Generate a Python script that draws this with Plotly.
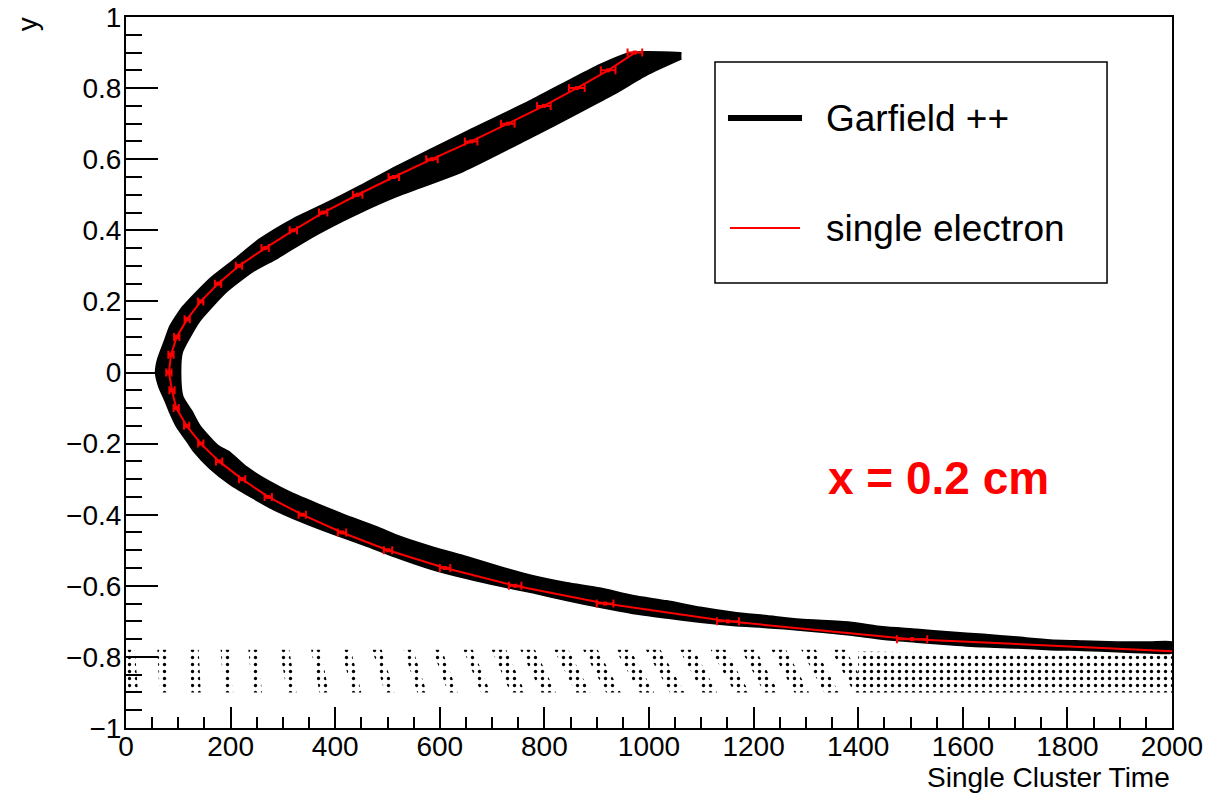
import plotly.graph_objects as go

# ---------------- data ----------------
# "single electron" curve: y positions and drift times, with x-errors
se_y = [0.9, 0.85, 0.8, 0.75, 0.7, 0.65, 0.6, 0.55, 0.5, 0.45, 0.4, 0.35, 0.3, 0.25,
        0.2, 0.15, 0.1, 0.05, 0.0, -0.05, -0.1, -0.15, -0.2, -0.25, -0.3, -0.35,
        -0.4, -0.45, -0.5, -0.55, -0.6, -0.65, -0.7, -0.75, -0.8]
se_t = [973, 922, 862, 799, 730, 660, 585, 512, 443, 377, 320, 266, 216, 176,
        143, 117, 97, 86, 82, 88, 96, 116, 143, 178, 222, 272,
        337, 413, 501, 610, 744, 916, 1151, 1503, 2230]
se_err = [14, 14, 15, 13, 13, 12, 11, 10, 9, 8, 7, 7, 6, 6,
          5, 5, 5, 5, 5, 5, 5, 5, 5, 6, 6, 7,
          7, 8, 8, 10, 12, 16, 21, 29, 40]

# Garfield++ band: outer edge (top end -> vertex -> tail)
band_outer_t = [1062, 964, 901, 772, 644, 518, 447, 384, 319, 256, 212, 161, 109, 84, 75,
                61, 57, 63, 74, 84, 97, 116, 130, 161, 199, 243, 281, 333, 396, 461, 511,
                587, 652, 715, 778, 843, 906, 969, 1034, 1098, 1161, 1226, 1289, 1384,
                1447, 1512, 1576, 1639, 1704, 1767, 1830, 1895, 1958, 2000]
band_outer_y = [0.899, 0.899, 0.862, 0.763, 0.672, 0.580, 0.524, 0.477, 0.431, 0.375, 0.323,
                0.264, 0.185, 0.129, 0.093, 0.037, 0.0, -0.039, -0.076, -0.112, -0.152,
                -0.192, -0.222, -0.270, -0.314, -0.353, -0.384, -0.418, -0.454, -0.488,
                -0.516, -0.554, -0.579, -0.600, -0.619, -0.641, -0.660, -0.677, -0.690,
                -0.702, -0.711, -0.717, -0.724, -0.738, -0.750, -0.758, -0.765, -0.771,
                -0.774, -0.779, -0.781, -0.785, -0.788, -0.788]
# inner edge (top end -> vertex -> tail)
band_inner_t = [1062, 996, 931, 868, 772, 644, 518, 447, 415, 352, 289, 243, 193, 141, 122,
                107, 104, 108, 126, 141, 174, 199, 231, 275, 319, 371, 423, 480, 524, 587,
                652, 715, 778, 843, 906, 969, 1034, 1098, 1161, 1226, 1289, 1384, 1447,
                1512, 1576, 1639, 1704, 1767, 1830, 1895, 1958, 2000]
band_inner_y = [0.883, 0.838, 0.782, 0.733, 0.660, 0.566, 0.496, 0.450, 0.427, 0.378, 0.322,
                0.285, 0.229, 0.146, 0.100, 0.056, 0.0, -0.067, -0.110, -0.150, -0.204,
                -0.226, -0.267, -0.308, -0.341, -0.373, -0.404, -0.435, -0.462, -0.492,
                -0.519, -0.547, -0.572, -0.592, -0.607, -0.628, -0.643, -0.661, -0.675,
                -0.685, -0.695, -0.703, -0.716, -0.723, -0.731, -0.737, -0.745, -0.753,
                -0.756, -0.759, -0.759, -0.759]

# Garfield++ scattered clusters near the bottom: column positions (top / bottom)
noise_top_t = [8, 69, 130, 190, 243, 303, 363, 421, 480, 540, 595, 654, 713, 768,
               832, 888, 950, 1008, 1072, 1132, 1190, 1248, 1305, 1362]
noise_bot_t = [14, 73, 134, 196, 251, 317, 379, 441, 504, 566, 625, 688, 749, 808,
               874, 932, 996, 1054, 1116, 1178, 1234, 1292, 1349, 1406]
noise_top_y = -0.78
noise_bot_y = -0.90
noise_field_t = [1400, 2000, 2000, 1400]
noise_field_y = [-0.785, -0.795, -0.90, -0.90]

# ---------------- figure ----------------
fig = go.Figure()

# bottom scattered clusters (dotted pattern)
nx, ny = [], []
for t0, t1 in zip(noise_top_t, noise_bot_t):
    hw = 9 if t0 < 700 else 14
    nx += [t0 - hw, t0 + hw, t1 + hw, t1 - hw, t0 - hw, None]
    ny += [noise_top_y, noise_top_y, noise_bot_y, noise_bot_y, noise_top_y, None]
nx += noise_field_t + [noise_field_t[0]]
ny += noise_field_y + [noise_field_y[0]]
fig.add_trace(go.Scatter(
    x=nx, y=ny, mode="lines", fill="toself", line=dict(width=0, color="black"),
    fillcolor="rgba(0,0,0,0)",
    fillpattern=dict(shape=".", size=7, solidity=0.18, fgcolor="black", fgopacity=1,
                     bgcolor="rgba(0,0,0,0)", fillmode="overlay"),
    hoverinfo="skip", showlegend=False))

# main Garfield++ band
bx = band_outer_t + band_inner_t[::-1]
by = band_outer_y + band_inner_y[::-1]
fig.add_trace(go.Scatter(
    x=bx, y=by, mode="lines", fill="toself", fillcolor="black",
    line=dict(color="black", width=2, shape="spline", smoothing=0.6),
    name="Garfield ++", showlegend=False))

# single electron curve
fig.add_trace(go.Scatter(
    x=se_t, y=se_y, mode="lines+markers", name="single electron",
    line=dict(color="#ff0000", width=2),
    marker=dict(color="#ff0000", size=4, symbol="square"),
    error_x=dict(type="data", array=se_err, color="#ff0000", thickness=2, width=4),
    showlegend=False))

FONT = "Liberation Sans, Arial, Helvetica, sans-serif"

fig.update_layout(
    width=1209, height=795,
    margin=dict(l=126, r=37, t=17, b=67, autoexpand=False),
    paper_bgcolor="white", plot_bgcolor="white",
    font=dict(family=FONT, size=28, color="black"),
    showlegend=False,
    xaxis=dict(range=[0, 2000], dtick=200, tick0=0, ticks="inside", ticklen=21,
               tickwidth=1.5, tickcolor="black", showgrid=False, zeroline=False,
               showline=True, linecolor="black", linewidth=2, mirror=True,
               automargin=False,
               minor=dict(ticks="inside", dtick=50, ticklen=11, tickwidth=1.5,
                          tickcolor="black", showgrid=False),
               tickfont=dict(size=28), ticklabelstandoff=-8),
    yaxis=dict(range=[-1, 1], dtick=0.2, tick0=0, ticks="inside", ticklen=32,
               tickwidth=1.5, tickcolor="black", showgrid=False, zeroline=False,
               showline=True, linecolor="black", linewidth=2, mirror=True,
               automargin=False,
               minor=dict(ticks="inside", dtick=0.05, ticklen=16, tickwidth=1.5,
                          tickcolor="black", showgrid=False),
               tickfont=dict(size=28), ticklabelstandoff=-3),
)

# axis titles (ROOT style: right / top aligned)
fig.add_annotation(text="Single Cluster Time", xref="paper", yref="paper",
                   x=1.0, y=-0.070, xanchor="right", yanchor="middle",
                   showarrow=False, font=dict(size=28, family=FONT))
fig.add_annotation(text="y", xref="paper", yref="paper", x=-0.0946, y=0.990,
                   xanchor="center", yanchor="middle", textangle=-90,
                   showarrow=False, font=dict(size=28, family=FONT))

# legend box (drawn)
fig.add_shape(type="rect", xref="paper", yref="paper", x0=0.5631, x1=0.9379,
              y0=0.6259, y1=0.9367, line=dict(color="black", width=1.5),
              fillcolor="white", layer="above")
fig.add_shape(type="line", xref="paper", yref="paper", x0=0.5755, x1=0.6463,
              y0=0.8579, y1=0.8579, line=dict(color="black", width=6), layer="above")
fig.add_shape(type="line", xref="paper", yref="paper", x0=0.5774, x1=0.6444,
              y0=0.7032, y1=0.7032, line=dict(color="#ff0000", width=2), layer="above")
fig.add_annotation(text="Garfield ++", xref="paper", yref="paper", x=0.6673, y=0.8579,
                   xanchor="left", yanchor="middle", showarrow=False,
                   font=dict(size=37, family=FONT))
fig.add_annotation(text="single electron", xref="paper", yref="paper", x=0.6673, y=0.7032,
                   xanchor="left", yanchor="middle", showarrow=False,
                   font=dict(size=37, family=FONT))

# label
fig.add_annotation(text="<b>x = 0.2 cm</b>", xref="paper", yref="paper", x=0.7763, y=0.352,
                   xanchor="center", yanchor="middle", showarrow=False,
                   font=dict(size=46, family=FONT, color="#ff0000"))

fig.write_html("out.html")
